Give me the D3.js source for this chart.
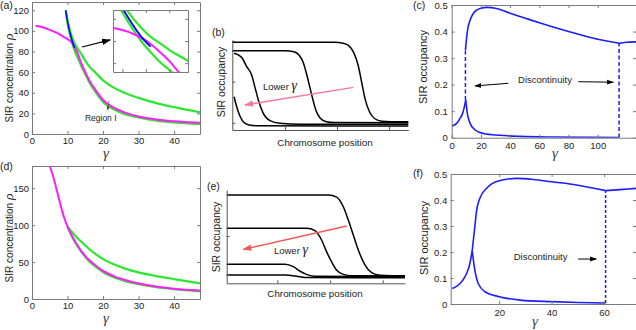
<!DOCTYPE html>
<html>
<head>
<meta charset="utf-8">
<script src="https://cdn.jsdelivr.net/npm/d3@7"></script>
<style>
  body { margin: 0; background: #fff; }
  svg { display: block; }
</style>
</head>
<body>
<div id="plot"></div>
<script>
// ---------- data ----------
// (a) SIR concentration vs gamma
const aGreenGamma = [9.5, 10, 10.5, 11, 11.5, 12, 12.5, 13, 14, 15, 16, 18, 20, 23, 26, 30, 35, 40, 47.3];
const aGreenUpper = [120, 110, 103, 97, 92, 88, 85, 82, 77, 71, 66, 59, 52, 45, 40, 35, 30, 26, 21];
const aGreenLower = [119, 107, 99, 92, 86, 81, 76.5, 73, 65, 58, 51, 40, 31, 24, 19.5, 16, 13, 11.2, 9.5];
const aBlueGamma = [9.5, 10, 10.5, 11, 11.5, 12];
const aBlue = [120, 109.5, 101, 94, 88, 83.5];
const aMagentaGamma = [1, 3, 5, 7, 9, 10, 11, 11.8, 12.5, 13, 13.5, 14, 15, 16, 18, 20, 23, 26, 30, 35, 40, 47.3];
const aMagenta = [105, 103.5, 101, 98, 94, 92, 89.5, 86, 81, 77, 72, 67.5, 60, 53, 42, 33, 25.5, 21, 17, 14, 12.3, 10.8];

// (d)
const dMagentaGamma = [4.8, 6, 7, 8, 9, 10, 11, 12, 13, 14, 15, 16, 18, 20, 23, 26, 30, 35, 40, 47.3];
const dMagenta = [183, 165, 147, 128, 111, 98, 88, 79, 71, 64, 58, 53, 45, 38, 31, 26, 21, 17, 14, 11.5];
const dGreenGamma = [10, 11, 12, 13, 14, 15, 16, 18, 20, 23, 26, 30, 35, 40, 47.3];
const dGreenUpper = [98, 92, 86.5, 81.5, 77, 72.5, 68, 60.5, 54, 47, 41.5, 36, 31, 27, 21];
const dGreenLower = [97.5, 87, 78, 70, 63, 57, 51.5, 43.5, 36.5, 29.5, 24.5, 20, 16, 13.3, 10.3];

// (b) occupancy profiles along the chromosome (position 0-100, occupancy 0-1)
const bPos1 = [0, 58, 63, 66, 69, 71.5, 73.5, 75.5, 78, 81, 85, 90, 100];
const bOcc1 = [0.974, 0.974, 0.965, 0.94, 0.86, 0.72, 0.53, 0.34, 0.2, 0.125, 0.097, 0.092, 0.092];
const bPos2 = [0, 30, 35, 38, 40.5, 42.5, 44, 45.5, 47.5, 50, 53, 58, 100];
const bOcc2 = [0.881, 0.881, 0.87, 0.83, 0.74, 0.6, 0.48, 0.36, 0.22, 0.13, 0.095, 0.082, 0.081];
const bPos3 = [1, 5.3, 8.2, 11, 12.9, 14.8, 17.6, 21.4, 27.1, 38.5, 100];
const bOcc3 = [0.852, 0.807, 0.704, 0.611, 0.474, 0.333, 0.185, 0.104, 0.074, 0.063, 0.063];
const bPos4 = [1, 2.5, 4.4, 6.3, 9.1, 13.8, 100];
const bOcc4 = [0.37, 0.259, 0.152, 0.089, 0.059, 0.048, 0.044];

// (e)
const ePos1 = [0, 57, 61.7, 65.4, 68.2, 71, 73.8, 77.6, 81.3, 86, 92, 100];
const eOcc1 = [0.946, 0.946, 0.924, 0.82, 0.678, 0.518, 0.357, 0.196, 0.114, 0.086, 0.081, 0.081];
const ePos2 = [0, 44.8, 49.5, 53.2, 56, 58.8, 61.6, 65.4, 70, 100];
const eOcc2 = [0.589, 0.589, 0.564, 0.464, 0.339, 0.232, 0.143, 0.096, 0.081, 0.078];
const ePos3 = [0, 32.7, 37.4, 41, 44.8, 49.5, 100];
const eOcc3 = [0.204, 0.204, 0.178, 0.132, 0.096, 0.075, 0.071];
const ePos4 = [0, 33, 37, 41, 45, 100];
const eOcc4 = [0.089, 0.089, 0.082, 0.07, 0.062, 0.06];

// (c) SIR occupancy vs gamma, two branches
const cUpperGamma = [9.4, 10.3, 11, 12.6, 15, 17.1, 20, 24, 30, 40, 50, 60, 70, 80, 90, 100, 114.6];
const cUpper = [0.33, 0.381, 0.41, 0.443, 0.47, 0.481, 0.488, 0.491, 0.488, 0.469, 0.451, 0.433, 0.416, 0.4, 0.385, 0.371, 0.356];
const cUpper2Gamma = [114.6, 117, 121, 127];
const cUpper2 = [0.355, 0.358, 0.36, 0.361];
const cRiseGamma = [0, 3.4, 5.7, 7.5, 8.7, 9.6];
const cRise = [0.044, 0.054, 0.073, 0.092, 0.117, 0.142];
const cFallGamma = [9.6, 10.7, 12.6, 16, 21.7, 33, 46.8, 69.6, 90, 114.6];
const cFall = [0.142, 0.092, 0.054, 0.029, 0.016, 0.009, 0.005, 0.0025, 0.0015, 0.001];
const cJumps = [[9.4, 0.142, 0.33], [114.6, 0.001, 0.356]];

// (f)
const fUpperGamma = [9.7, 10.7, 11.4, 12.6, 15.2, 20, 26.6, 33, 40, 49.5, 60.6];
const fUpper = [0.205, 0.297, 0.36, 0.406, 0.445, 0.474, 0.483, 0.479, 0.47, 0.458, 0.436];
const fUpper2Gamma = [60.6, 66, 72.5];
const fUpper2 = [0.436, 0.44, 0.445];
const fRiseGamma = [2.1, 4, 6, 7.6, 8.8, 9.7];
const fRise = [0.06, 0.07, 0.09, 0.118, 0.155, 0.205];
const fFallGamma = [9.7, 10.7, 12, 14.6, 20, 28, 40, 50, 60.6];
const fFall = [0.205, 0.131, 0.079, 0.047, 0.028, 0.015, 0.009, 0.006, 0.004];
const fJumps = [[60.6, 0.004, 0.436]];

// ticks
const aXTicks = [0, 10, 20, 30, 40];
const aYTicks = [0, 20, 40, 60, 80, 100, 120];
const dYTicks = [0, 50, 100, 150];
const insetXTicks = [10.5, 11.75, 13];
const insetYTicks = [76, 86, 96];
const cXTicks = [0, 20, 40, 60, 80, 100];
const fXTicks = [20, 40, 60];
const occTicks = [0, 0.1, 0.2, 0.3, 0.4, 0.5];
const bXTicks = [30, 59.5, 89];
const bYTicks = [0.08, 0.537, 0.99];
const eXTicks = [28.4, 58, 87.5];
const eYTicks = [0.089, 0.507];

// ---------- look ----------
const W = 636, H = 330;
const sans = "'Liberation Sans', Arial, sans-serif";
const serif = "'Liberation Serif', 'Times New Roman', serif";
const axisGrey = '#7a7a7a';
const textColor = '#222';
const green = '#2fe62f';
const magenta = '#ff1dff';
const blue = '#0000ff';
const lineBlue = '#1c1cff';
const pink = '#f4769c';
const red = '#f25656';

const svg = d3.select('#plot').append('svg').attr('width', W).attr('height', H)
  .style('font-family', sans);
svg.append('rect').attr('width', W).attr('height', H).attr('fill', '#fff');
const defs = svg.append('defs');

function marker(id, color, size) {
  defs.append('marker').attr('id', id).attr('viewBox', '0 0 10 10')
    .attr('refX', 9).attr('refY', 5).attr('markerUnits', 'userSpaceOnUse')
    .attr('markerWidth', size).attr('markerHeight', size).attr('orient', 'auto')
    .append('path').attr('d', 'M0,1.5L10,5L0,8.5Z').attr('fill', color);
}
marker('headBlack', '#000', 9);
marker('headThin', '#000', 7);
marker('headSmall', '#333', 4);
marker('headPink', pink, 9);
marker('headRed', red, 9);

let clipCount = 0;
function clipFor(x, y) {
  const id = 'clip' + (clipCount++);
  defs.append('clipPath').attr('id', id).append('rect')
    .attr('x', x.range()[0]).attr('y', y.range()[1])
    .attr('width', x.range()[1] - x.range()[0])
    .attr('height', y.range()[0] - y.range()[1]);
  return svg.append('g').attr('clip-path', `url(#${id})`);
}

function styleAxis(g, color) {
  g.select('.domain').attr('stroke', color);
  g.selectAll('.tick line').attr('stroke', color);
  g.selectAll('.tick text').attr('fill', textColor).attr('font-size', 9.5).attr('font-family', sans);
}

// MATLAB style box: ticks inside on all four sides, labels left/bottom
function boxAxes(x, y, xTicks, yTicks, xPad, yPad, labels = true) {
  const g = svg.append('g');
  const [xl, xr] = x.range(), [yb, yt] = y.range();
  g.append('g').attr('transform', `translate(0,${yb})`)
    .call(d3.axisBottom(x).tickValues(xTicks).tickFormat(labels ? d => d : '')
      .tickSize(-3).tickSizeOuter(0).tickPadding(xPad))
    .call(styleAxis, axisGrey);
  g.append('g').attr('transform', `translate(0,${yt})`)
    .call(d3.axisTop(x).tickValues(xTicks).tickFormat('').tickSize(-3).tickSizeOuter(0))
    .call(styleAxis, axisGrey);
  g.append('g').attr('transform', `translate(${xl},0)`)
    .call(d3.axisLeft(y).tickValues(yTicks).tickFormat(labels ? d => d : '')
      .tickSize(-3).tickSizeOuter(0).tickPadding(yPad))
    .call(styleAxis, axisGrey);
  g.append('g').attr('transform', `translate(${xr},0)`)
    .call(d3.axisRight(y).tickValues(yTicks).tickFormat('').tickSize(-3).tickSizeOuter(0))
    .call(styleAxis, axisGrey);
}

// only left and bottom, no labels (panels b, e)
function plainAxes(x, y, xTicks, yTicks) {
  const [xl] = x.range(), [yb] = y.range();
  svg.append('g').attr('transform', `translate(0,${yb})`)
    .call(d3.axisBottom(x).tickValues(xTicks).tickFormat('').tickSize(-3).tickSizeOuter(0))
    .call(styleAxis, '#555');
  svg.append('g').attr('transform', `translate(${xl},0)`)
    .call(d3.axisLeft(y).tickValues(yTicks).tickFormat('').tickSize(-3).tickSizeOuter(0))
    .call(styleAxis, '#555');
}

function curve(g, x, y, xs, ys, color, width, dash) {
  g.append('path').datum(d3.zip(xs, ys))
    .attr('fill', 'none').attr('stroke', color).attr('stroke-width', width)
    .attr('stroke-dasharray', dash || null)
    .attr('stroke-linejoin', 'round')
    .attr('d', d3.line().x(d => x(d[0])).y(d => y(d[1])).curve(d3.curveMonotoneX));
}

function jump(g, x, y, j, dash) {
  g.append('line').attr('x1', x(j[0])).attr('x2', x(j[0]))
    .attr('y1', y(j[1])).attr('y2', y(j[2]))
    .attr('stroke', lineBlue).attr('stroke-width', 1.5).attr('stroke-dasharray', dash);
}

function arrow(x, y, from, to, color, width, head, dash) {
  svg.append('line')
    .attr('x1', x(from[0])).attr('y1', y(from[1]))
    .attr('x2', x(to[0])).attr('y2', y(to[1]))
    .attr('stroke', color).attr('stroke-width', width)
    .attr('stroke-dasharray', dash || null)
    .attr('marker-end', `url(#${head})`);
}

function label(x, y, txt, size, anchor, family) {
  return svg.append('text').attr('x', x).attr('y', y).attr('font-size', size)
    .attr('text-anchor', anchor || 'start').attr('font-family', family || sans)
    .attr('fill', textColor).text(txt);
}

function yLabel(x, y, txt, size, greek) {
  const t = svg.append('text').attr('transform', `translate(${x},${y}) rotate(-90)`)
    .attr('text-anchor', 'middle').attr('font-size', size).attr('fill', textColor).text(txt);
  if (greek) {
    t.append('tspan').attr('font-family', serif).attr('font-style', 'italic')
      .attr('font-size', 13.5).text(greek);
  }
}

function gammaLabel(x, y) {
  label(x, y, 'γ', 15, 'middle', serif).attr('font-style', 'italic').attr('fill', '#444');
}

function lowerGamma(x, y) {
  label(x, y, 'Lower ', 9.5).append('tspan')
    .attr('font-family', serif).attr('font-style', 'italic').attr('font-size', 14).text('γ');
}

// ---------- (a) ----------
const xA = d3.scaleLinear().domain([0, 47.3]).range([32, 200]);
const yA = d3.scaleLinear().domain([0, 128]).range([134, 2]);
const gA = clipFor(xA, yA);
curve(gA, xA, yA, aGreenGamma, aGreenUpper, green, 2.2);
curve(gA, xA, yA, aGreenGamma, aGreenLower, green, 2.2);
curve(gA, xA, yA, aMagentaGamma, aMagenta, magenta, 2);
curve(gA, xA, yA, aBlueGamma, aBlue, blue, 1.5);
boxAxes(xA, yA, aXTicks, aYTicks, 3.5, 3);
yLabel(12.5, 78, 'SIR concentration ', 10, 'ρ');
gammaLabel(106, 158);
label(0, 9, '(a)', 10.5);
label(xA(14.9), yA(12.6), 'Region I', 8.5);
arrow(xA, yA, [21.7, 32], [21.3, 23.3], '#333', 0.8, 'headSmall', '1.5,1');
arrow(xA, yA, [14.1, 84.4], [22, 91.2], '#000', 1.2, 'headBlack');

// inset
const xIn = d3.scaleLinear().domain([10, 14]).range([113, 188]);
const yIn = d3.scaleLinear().domain([72, 100]).range([72, 10]);
svg.append('rect').attr('x', 113).attr('y', 10).attr('width', 75).attr('height', 62).attr('fill', '#fff');
const gIn = clipFor(xIn, yIn);
curve(gIn, xIn, yIn, aGreenGamma, aGreenUpper, green, 2.2);
curve(gIn, xIn, yIn, aGreenGamma, aGreenLower, green, 2.2);
curve(gIn, xIn, yIn, aMagentaGamma, aMagenta, magenta, 2);
curve(gIn, xIn, yIn, aBlueGamma, aBlue, blue, 1.8);
boxAxes(xIn, yIn, insetXTicks, insetYTicks, 0, 0, false);

// ---------- (d) ----------
const xD = d3.scaleLinear().domain([0, 47.3]).range([32, 200]);
const yD = d3.scaleLinear().domain([0, 180]).range([299, 166]);
const gD = clipFor(xD, yD);
curve(gD, xD, yD, dGreenGamma, dGreenUpper, green, 2.2);
curve(gD, xD, yD, dGreenGamma, dGreenLower, green, 2.2);
curve(gD, xD, yD, dMagentaGamma, dMagenta, magenta, 2);
boxAxes(xD, yD, aXTicks, dYTicks, 3.5, 3);
yLabel(12.5, 238, 'SIR concentration ', 10, 'ρ');
gammaLabel(106, 323);
label(0, 170, '(d)', 10.5);

// ---------- (b) ----------
const xB = d3.scaleLinear().domain([0, 100]).range([232.3, 408.3]);
const yB = d3.scaleLinear().domain([0, 1]).range([130, 40]);
[[bPos1, bOcc1], [bPos2, bOcc2], [bPos3, bOcc3], [bPos4, bOcc4]].forEach(c => {
  curve(svg, xB, yB, c[0], c[1], '#000', 1.5);
});
plainAxes(xB, yB, bXTicks, bYTicks);
yLabel(225, 82, 'SIR occupancy', 10.5);
label(325, 146, 'Chromosome position', 9.8, 'middle');
label(212, 36, '(b)', 10.5);
arrow(xB, yB, [68.75, 0.474], [7.2, 0.278], pink, 1.4, 'headPink');
lowerGamma(xB(17.4), yB(0.444));

// ---------- (e) ----------
const xE = d3.scaleLinear().domain([0, 100]).range([226.7, 405]);
const yE = d3.scaleLinear().domain([0, 1]).range([283.3, 190]);
[[ePos1, eOcc1], [ePos2, eOcc2], [ePos3, eOcc3], [ePos4, eOcc4]].forEach(c => {
  curve(svg, xE, yE, c[0], c[1], '#000', 1.5);
});
plainAxes(xE, yE, eXTicks, eYTicks);
yLabel(220, 237, 'SIR occupancy', 10.5);
label(315, 297, 'Chromosome position', 9.8, 'middle');
label(207, 190, '(e)', 10.5);
arrow(xE, yE, [67.3, 0.614], [9.3, 0.364], red, 1.4, 'headRed');
lowerGamma(xE(26.5), yE(0.314));

// ---------- (c) ----------
const xC = d3.scaleLinear().domain([0, 126.2]).range([451.7, 636]);
const yC = d3.scaleLinear().domain([0, 0.5]).range([137.7, 5]);
const gC = clipFor(xC, yC);
curve(gC, xC, yC, cRiseGamma, cRise, lineBlue, 1.6);
curve(gC, xC, yC, cFallGamma, cFall, lineBlue, 1.6);
curve(gC, xC, yC, cUpperGamma, cUpper, lineBlue, 1.6);
curve(gC, xC, yC, cUpper2Gamma, cUpper2, lineBlue, 1.6);
cJumps.forEach(j => jump(gC, xC, yC, j, '4,2.5'));
boxAxes(xC, yC, cXTicks, occTicks, 5, 4);
yLabel(426.5, 67, 'SIR occupancy', 11);
gammaLabel(555, 158);
label(413, 9, '(c)', 10.5);
label(xC(63.9), yC(0.207), 'Discontinuity', 9.5, 'middle');
arrow(xC, yC, [38.8, 0.205], [16, 0.195], '#000', 1, 'headThin');
arrow(xC, yC, [86.7, 0.211], [110.7, 0.209], '#000', 1, 'headThin');

// ---------- (f) ----------
const xF = d3.scaleLinear().domain([1.5, 72.2]).range([450.7, 636]);
const yF = d3.scaleLinear().domain([0, 0.5]).range([304, 174]);
const gF = clipFor(xF, yF);
curve(gF, xF, yF, fRiseGamma, fRise, lineBlue, 1.6);
curve(gF, xF, yF, fFallGamma, fFall, lineBlue, 1.6);
curve(gF, xF, yF, fUpperGamma, fUpper, lineBlue, 1.6);
curve(gF, xF, yF, fUpper2Gamma, fUpper2, lineBlue, 1.6);
fJumps.forEach(j => jump(gF, xF, yF, j, '3,2'));
boxAxes(xF, yF, fXTicks, occTicks, 5, 3.5);
yLabel(428, 238, 'SIR occupancy', 11);
gammaLabel(535, 326);
label(413, 177, '(f)', 10.5);
label(xF(35.8), yF(0.169), 'Discontinuity', 9.5, 'middle');
arrow(xF, yF, [50.1, 0.173], [57.1, 0.173], '#000', 1, 'headThin');
</script>
</body>
</html>
